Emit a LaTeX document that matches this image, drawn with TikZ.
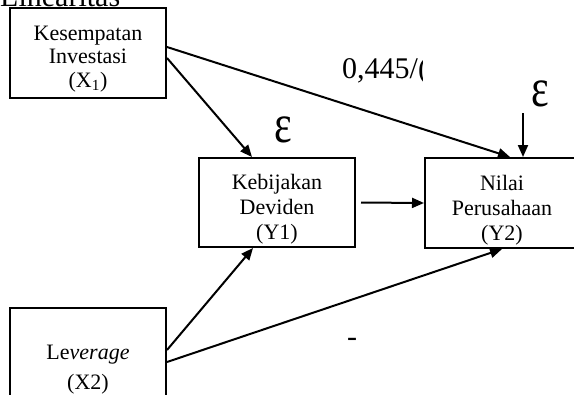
\documentclass[tikz,border=0pt]{standalone}
\usepackage{fontspec}
\setmainfont{Liberation Serif}
\usetikzlibrary{arrows.meta}
\begin{document}
\begin{tikzpicture}[x=1bp,y=-1bp,
  box/.style={draw,line width=2bp,minimum width=156bp,minimum height=90bp,inner sep=0pt},
  txt/.style={inner sep=0pt,align=center,font=\fontsize{22bp}{25bp}\selectfont},
  arr/.style={line width=2bp,-{Triangle[length=12bp,width=10bp]}},
  eps/.style={inner sep=0pt,font=\fontsize{42bp}{42bp}\selectfont},
  big/.style={inner sep=0pt,font=\fontsize{30bp}{32bp}\selectfont},
  lbl/.style={inner sep=0pt,font=\fontsize{30bp}{30bp}\selectfont}
]
\useasboundingbox (0,0) rectangle (574,394);
\clip (0,0) rectangle (574,394);
\node[big,anchor=base west] (title) at (0,6) {Linearitas};
\node[box] (x1) at (88,53) {};
\node[txt,font=\fontsize{22bp}{23.5bp}\selectfont] (x1t) at ([yshift=-6bp]x1.center) {Kesempatan\\Investasi\\(X\textsubscript{1})};
\node[box,minimum height=89bp] (y1) at (277,202.5) {};
\node[txt] (y1t) at ([yshift=-6.5bp]y1.center) {Kebijakan\\Deviden\\(Y1)};
\node[box,minimum width=154bp] (y2) at (502,203) {};
\node[txt] (y2t) at ([yshift=-7bp]y2.center) {Nilai\\Perusahaan\\(Y2)};
\node[box] (x2) at (88,353) {};
\node[txt,font=\fontsize{22bp}{30bp}\selectfont] (x2t) at (88,369.5) {Le\textit{verage}\\(X2)};
\node[eps] (e1) at (283,129.5) {\scalebox{1}[1.3]{ε}};
\node[eps] (e2) at (540,94) {\scalebox{1}[1.3]{ε}};
\coordinate (e2a) at (523,113);
\begin{scope}
\clip (330,40) rectangle (422,95);
\node[big,anchor=base west] (coef) at (342,78) {0,445/(};
\end{scope}
\node[lbl] (dash) at (352,342) {-};
\draw[arr] ([yshift=-5bp]x1.east) -- ([xshift=-25bp]y1.north);
\draw[arr] ([yshift=6bp]x1.east) -- ([xshift=8bp]y2.north);
\draw[arr] ([xshift=5bp]y1.east) -- (y2.west);
\draw[arr] ([yshift=3bp]x2.east) -- ([xshift=-24bp]y1.south);
\draw[arr] ([yshift=-9bp]x2.east) -- (y2.south);
\draw[arr] (e2a) -- (e2a |- y2.north);
\end{tikzpicture}
\end{document}
